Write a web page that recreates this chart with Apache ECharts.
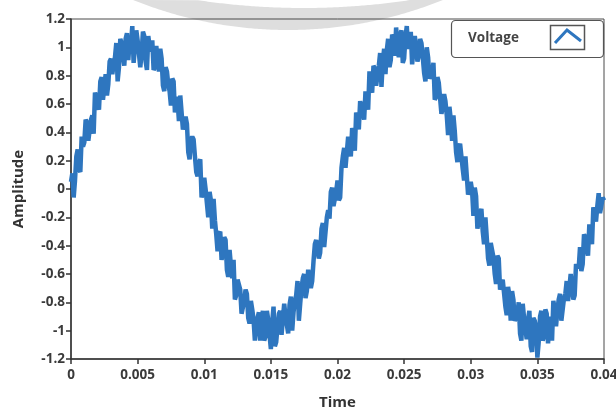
<!DOCTYPE html>
<html>
<head>
<meta charset="utf-8">
<script src="https://cdn.jsdelivr.net/npm/echarts@6/dist/echarts.min.js"></script>
<style>
  html, body { margin: 0; padding: 0; background: #ffffff; }
  #chart { width: 616px; height: 410px; }
</style>
</head>
<body>
<div id="chart"></div>
<script>
// Sampling: one reading every 0.0001 s from 0 to 0.04 s
const sampleStart = 0;
const sampleStep = 0.0001;

// Measured voltage readings (noisy sine)
const voltage = [
  0.05, 0.11, -0.06, 0.06, 0.23, 0.28, 0.14, 0.12, 0.37, 0.30, 0.33, 0.49, 0.47, 0.34, 0.35, 0.49, 0.52, 0.39, 0.68, 0.65,
  0.59, 0.56, 0.76, 0.79, 0.63, 0.72, 0.81, 0.66, 0.74, 0.90, 0.92, 0.81, 0.88, 0.93, 1.03, 0.76, 0.86, 1.06, 1.03, 0.94,
  0.87, 1.06, 1.10, 0.91, 1.04, 1.02, 1.15, 0.89, 0.90, 1.12, 1.05, 1.06, 0.86, 0.96, 1.11, 1.08, 0.90, 0.84, 1.08, 1.01,
  0.97, 1.05, 0.84, 0.86, 1.01, 0.91, 0.83, 0.99, 0.92, 0.73, 0.69, 0.86, 0.83, 0.74, 0.69, 0.59, 0.78, 0.76, 0.54, 0.65,
  0.62, 0.48, 0.66, 0.65, 0.42, 0.42, 0.51, 0.46, 0.26, 0.21, 0.35, 0.37, 0.35, 0.23, 0.12, 0.09, 0.18, 0.21, -0.06, -0.02,
  0.08, 0.00, -0.10, -0.20, -0.02, -0.08, -0.28, -0.07, -0.22, -0.32, -0.44, -0.32, -0.30, -0.50, -0.45, -0.34, -0.36, -0.57, -0.62, -0.43,
  -0.54, -0.63, -0.50, -0.78, -0.75, -0.64, -0.64, -0.71, -0.88, -0.88, -0.79, -0.71, -0.74, -0.91, -0.95, -0.79, -0.85, -0.92, -1.07, -1.07,
  -0.91, -0.87, -1.07, -0.93, -0.86, -1.07, -1.04, -0.86, -0.92, -1.03, -1.13, -0.94, -0.83, -1.11, -1.08, -0.97, -0.88, -0.86, -1.03, -1.03,
  -0.81, -0.90, -0.96, -1.02, -0.82, -0.76, -1.00, -0.87, -0.79, -0.75, -0.65, -0.93, -0.81, -0.70, -0.63, -0.60, -0.77, -0.72, -0.57, -0.58,
  -0.70, -0.65, -0.51, -0.39, -0.36, -0.43, -0.49, -0.45, -0.28, -0.24, -0.41, -0.40, -0.20, -0.15, -0.21, -0.02, 0.01, -0.12, -0.13, -0.02,
  0.06, -0.08, -0.06, 0.15, 0.23, 0.29, 0.15, 0.15, 0.37, 0.31, 0.23, 0.43, 0.40, 0.27, 0.54, 0.50, 0.42, 0.62, 0.63, 0.54,
  0.49, 0.69, 0.69, 0.56, 0.83, 0.72, 0.68, 0.87, 0.85, 0.73, 0.72, 0.87, 0.96, 0.72, 0.90, 0.99, 0.81, 0.98, 1.06, 0.86,
  0.91, 1.09, 1.07, 0.94, 1.14, 1.01, 0.93, 1.09, 1.12, 0.89, 0.92, 1.07, 1.15, 0.99, 1.02, 1.11, 0.88, 0.89, 1.08, 1.01,
  0.90, 0.94, 1.06, 1.03, 0.93, 0.82, 0.76, 1.00, 0.93, 0.78, 0.78, 0.82, 0.89, 0.63, 0.65, 0.79, 0.75, 0.76, 0.53, 0.58,
  0.67, 0.62, 0.52, 0.38, 0.58, 0.49, 0.34, 0.52, 0.41, 0.26, 0.19, 0.29, 0.32, 0.31, 0.14, 0.06, 0.23, 0.22, -0.04, -0.03,
  0.05, -0.01, -0.19, 0.01, -0.05, -0.28, -0.23, -0.17, -0.14, -0.30, -0.39, -0.20, -0.34, -0.49, -0.54, -0.38, -0.39, -0.48, -0.60, -0.67,
  -0.47, -0.49, -0.71, -0.71, -0.64, -0.63, -0.83, -0.89, -0.69, -0.75, -0.93, -0.72, -0.78, -0.93, -0.91, -0.88, -0.80, -1.02, -1.07, -0.81,
  -0.91, -0.99, -1.06, -0.92, -0.86, -1.11, -1.15, -0.91, -0.93, -0.98, -1.19, -1.08, -0.90, -0.86, -1.07, -1.04, -0.85, -0.88, -1.09, -0.97,
  -0.90, -1.07, -0.79, -0.85, -0.97, -0.86, -0.78, -0.74, -0.93, -0.92, -0.77, -0.74, -0.65, -0.79, -0.80, -0.60, -0.61, -0.78, -0.75, -0.53,
  -0.53, -0.56, -0.41, -0.58, -0.53, -0.32, -0.34, -0.42, -0.47, -0.25, -0.24, -0.39, -0.13, -0.16, -0.23, -0.12, -0.03, -0.17, -0.12, -0.06,
  -0.08
];

// Axis tick settings
const timeTicks = { min: 0, max: 0.04, interval: 0.005 };
const ampTicks = { min: -1.2, max: 1.2, interval: 0.2 };

const seriesName = 'Voltage';
const traceColor = '#2e76bf';

const points = voltage.map((v, i) => [+(sampleStart + i * sampleStep).toFixed(4), v]);

// Grey crescent along the top edge: outer arc then inner arc back
function crescentPoints() {
  const pts = [];
  const outer = { cx: 288, cy: -385, r: 415, x0: 133, x1: 443 };
  const inner = { cx: 303.5, cy: -711, r: 719, x0: 197, x1: 410 };
  for (let x = outer.x0; x <= outer.x1; x += 2) {
    const dx = x - outer.cx;
    pts.push([x, outer.cy + Math.sqrt(Math.max(0, outer.r * outer.r - dx * dx))]);
  }
  for (let x = inner.x1; x >= inner.x0; x -= 2) {
    const dx = x - inner.cx;
    pts.push([x, inner.cy + Math.sqrt(Math.max(0, inner.r * inner.r - dx * dx))]);
  }
  return pts;
}

const chart = echarts.init(document.getElementById('chart'), null, { renderer: 'canvas' });

const labelFont = {
  color: '#3a3a3a',
  fontFamily: 'Open Sans',
  fontWeight: 'bold',
  fontSize: 13.5
};

const titleFont = { color: '#333', fontFamily: 'Open Sans', fontWeight: 'bold', fontSize: 15 };

chart.setOption({
  animation: false,
  backgroundColor: '#ffffff',
  grid: {
    left: 71, right: 12, top: 19, bottom: 51,
    outerBoundsMode: 'none',
    containLabel: false,
    show: true,
    borderColor: '#4a4a4a',
    borderWidth: 1,
    backgroundColor: 'transparent'
  },
  xAxis: {
    type: 'value',
    min: timeTicks.min,
    max: timeTicks.max,
    interval: timeTicks.interval,
    name: 'Time',
    nameLocation: 'middle',
    nameGap: 36,
    nameTextStyle: titleFont,
    axisLine: { show: true, onZero: false, lineStyle: { color: '#333', width: 1.5 } },
    axisTick: { show: true, length: 5, lineStyle: { color: '#333', width: 1.5 } },
    axisLabel: Object.assign({ margin: 9, showMaxLabel: true }, labelFont),
    splitLine: { show: false }
  },
  yAxis: {
    type: 'value',
    min: ampTicks.min,
    max: ampTicks.max,
    interval: ampTicks.interval,
    name: 'Amplitude',
    nameLocation: 'middle',
    nameGap: 45,
    nameRotate: 90,
    nameTextStyle: titleFont,
    axisLine: { show: true, lineStyle: { color: '#333', width: 1.5 } },
    axisTick: { show: true, length: 5, lineStyle: { color: '#333', width: 1.5 } },
    axisLabel: Object.assign({ margin: 6 }, labelFont),
    splitLine: { show: false }
  },
  series: [{
    name: seriesName,
    type: 'line',
    data: points,
    showSymbol: false,
    lineStyle: { color: traceColor, width: 4.5 },
    z: 3
  }],
  graphic: [
    {
      type: 'polygon',
      z: -10,
      silent: true,
      shape: { points: crescentPoints() },
      style: { fill: '#dedede' }
    },
    // legend box
    {
      type: 'rect',
      z: 20,
      shape: { x: 451.5, y: 20.5, width: 152, height: 37, r: 4 },
      style: { fill: '#ffffff', stroke: '#555555', lineWidth: 1.2 }
    },
    {
      type: 'text',
      z: 21,
      x: 468, y: 38,
      style: {
        text: seriesName,
        fill: '#444444',
        font: 'bold 13.5px "Open Sans"',
        verticalAlign: 'middle'
      }
    },
    {
      type: 'rect',
      z: 21,
      shape: { x: 550.5, y: 25.5, width: 34, height: 24 },
      style: { fill: '#ffffff', stroke: '#555555', lineWidth: 1.5 }
    },
    {
      type: 'polyline',
      z: 22,
      shape: { points: [[555, 43], [567, 30], [581, 41]] },
      style: { stroke: traceColor, lineWidth: 3, fill: null }
    }
  ]
});
</script>
</body>
</html>
